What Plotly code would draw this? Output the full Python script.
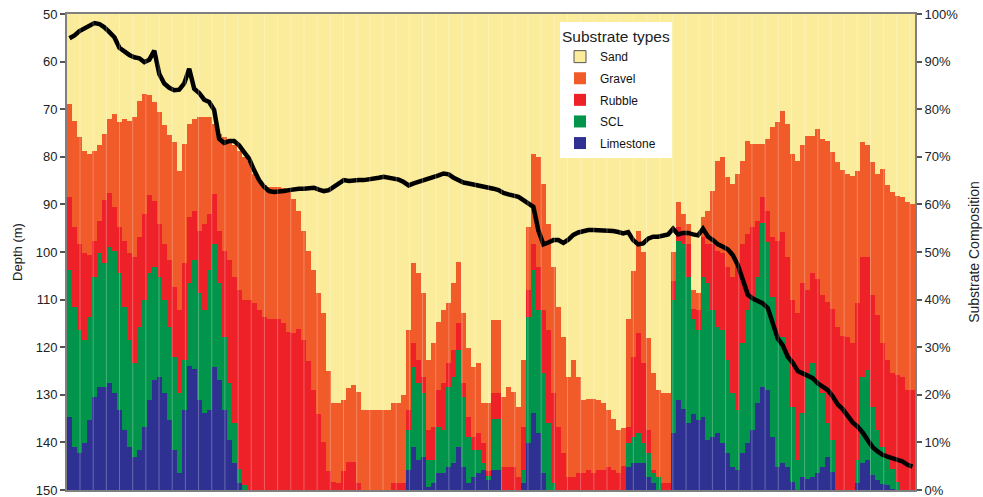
import plotly.graph_objects as go

# Cumulative upper boundaries of each substrate class (% of composition)
gravel_top = [
    81.0, 77.5, 74.1, 71.3, 70.6, 71.3, 72.4, 74.8, 78.0, 79.0, 77.3, 78.0, 77.6, 78.3, 81.8, 83.2, 82.9, 81.5, 79.4, 76.6,
    74.5, 73.1, 67.1, 72.7, 76.9, 78.0, 78.3, 78.3,
    78.3, 76.9, 74.8, 74.1, 73.4, 72.4, 71.3, 69.9, 69.2, 66.4, 64.7, 64.0, 63.6, 63.6, 63.6, 63.5, 62.6, 61.2, 58.7, 54.5,
    50.3, 46.2, 41.3, 37.1, 25.0, 18.2, 18.2, 18.9,
    21.5, 22.0, 20.5, 16.8, 16.8, 16.8, 16.8, 16.8, 16.8, 18.2, 18.2, 20.0, 33.6, 47.6, 45.5, 41.3, 27.3, 30.8, 35.3, 37.8,
    39.2, 43.4, 47.9, 37.1, 29.9, 25.9, 26.6, 18.2,
    18.2, 35.7, 35.7, 19.6, 21.7, 20.6, 17.5, 27.3, 55.2, 70.6, 69.9, 64.3, 55.9, 46.9, 38.5, 32.2, 23.8, 27.3, 23.8, 18.9,
    19.2, 19.2, 18.9, 18.2, 16.8, 15.0, 12.6, 13.0,
    36.0, 46.0, 54.5, 50.0, 32.0, 24.5, 21.0, 20.3, 20.3, 50.0, 60.5, 58.0, 55.9, 42.0, 41.3, 57.3, 58.7, 62.9, 69.2, 69.9,
    65.7, 64.3, 66.4, 69.2, 73.4, 72.7, 72.7, 72.7,
    73.8, 76.2, 77.3, 79.7, 76.9, 70.6, 69.2, 72.4, 74.3, 74.3, 75.9, 73.8, 73.4, 71.0, 68.9, 67.3, 66.4, 65.9, 67.1, 73.1,
    72.4, 68.9, 66.4, 67.5, 64.0, 62.6, 61.8, 61.5, 60.5, 60.1,
]

rubble_top = [
    61.5, 55.2, 51.7, 49.7, 49.3, 52.4, 56.6, 61.0, 62.5, 59.4, 55.2, 52.4, 49.7, 49.0, 53.1, 58.0, 61.9, 60.8, 55.9, 51.7,
    48.3, 42.7, 37.8, 47.6, 57.3, 58.7, 54.5, 55.9,
    58.0, 62.2, 54.5, 50.3, 48.3, 44.8, 42.0, 39.9, 39.9, 39.2, 37.8, 36.4, 36.0, 36.0, 36.0, 35.0, 33.2, 32.9, 33.9, 31.5,
    27.0, 21.0, 16.0, 10.0, 4.0, 1.7, 1.5, 4.0,
    5.9, 5.9, 1.4, 0.0, 0.0, 0.0, 0.0, 0.0, 0.0, 1.4, 1.4, 1.4, 16.8, 30.8, 27.3, 23.8, 12.6, 13.3, 21.0, 22.4,
    26.6, 29.4, 35.0, 22.4, 15.4, 11.2, 11.9, 9.8,
    4.0, 20.3, 20.3, 4.9, 4.9, 4.9, 2.8, 13.3, 42.0, 51.7, 46.9, 37.8, 33.6, 20.3, 13.3, 7.7, 2.8, 2.8, 3.5, 3.5,
    4.2, 3.5, 4.2, 4.2, 4.9, 4.2, 3.5, 5.0,
    13.3, 28.0, 33.0, 26.6, 12.6, 4.2, 2.8, 1.4, 1.4, 44.0, 55.2, 54.5, 51.7, 38.0, 37.8, 53.1, 51.7, 51.7, 50.3, 49.7,
    46.9, 44.8, 47.6, 51.7, 53.8, 55.2, 56.6, 61.5,
    58.7, 53.1, 52.4, 54.2, 49.0, 39.9, 37.1, 43.4, 42.0, 45.5, 44.4, 40.9, 39.5, 38.1, 34.3, 32.3, 32.2, 30.8, 39.2, 49.0,
    49.0, 40.9, 36.7, 30.8, 27.3, 24.5, 24.1, 23.8, 21.0, 21.0,
]

scl_top = [
    46.2, 38.5, 33.6, 31.5, 36.4, 44.8, 49.7, 47.6, 51.0, 50.3, 45.5, 38.5, 31.5, 26.6, 34.3, 39.9, 45.5, 46.9, 44.8, 39.9,
    34.3, 28.0, 20.3, 27.3, 43.4, 48.3, 41.3, 37.8,
    46.2, 51.7, 43.4, 32.2, 22.4, 14.0, 4.5, 1.0, 0.0, 0.0, 0.0, 0.0, 0.0, 0.0, 0.0, 0.0, 0.0, 0.0, 0.0, 0.0,
    0.0, 0.0, 0.0, 0.0, 0.0, 0.0, 0.0, 0.0,
    0.0, 0.0, 0.0, 0.0, 0.0, 0.0, 0.0, 0.0, 0.0, 0.0, 0.0, 0.0, 12.6, 25.9, 22.4, 20.3, 6.3, 6.3, 13.3, 12.6,
    21.7, 23.8, 29.4, 19.6, 11.2, 8.4, 8.4, 5.6,
    3.0, 15.0, 15.0, 0.0, 0.0, 0.0, 0.0, 4.2, 36.4, 46.2, 37.8, 24.5, 14.0, 1.4, 0.0, 0.0, 0.0, 0.0, 0.0, 0.0,
    0.0, 0.0, 0.0, 0.0, 0.0, 0.0, 0.0, 0.0,
    9.8, 11.2, 11.9, 9.8, 7.7, 3.5, 2.8, 0.0, 0.0, 40.0, 52.4, 51.7, 44.8, 36.0, 33.6, 44.8, 43.4, 37.8, 34.3, 33.6,
    27.3, 20.3, 16.8, 30.8, 37.8, 40.6, 44.8, 56.0,
    52.0, 40.6, 32.5, 32.2, 28.0, 17.5, 6.3, 16.1, 24.5, 26.6, 23.1, 20.3, 14.0, 10.5, 0.0, 0.0, 0.0, 0.0, 6.3, 23.8,
    25.2, 17.5, 12.6, 9.1, 6.6, 4.5, 1.7, 0.0, 0.0, 0.0,
]

limestone_top = [
    15.4, 9.1, 7.7, 9.8, 14.7, 19.6, 21.7, 21.7, 22.4, 20.3, 16.8, 12.6, 9.1, 7.0, 8.4, 13.3, 18.9, 23.1, 23.8, 20.3,
    14.7, 8.4, 3.5, 16.8, 26.0, 25.5, 18.9, 16.1,
    16.8, 25.9, 23.1, 16.8, 10.5, 5.6, 1.5, 0.0, 0.0, 0.0, 0.0, 0.0, 0.0, 0.0, 0.0, 0.0, 0.0, 0.0, 0.0, 0.0,
    0.0, 0.0, 0.0, 0.0, 0.0, 0.0, 0.0, 0.0,
    0.0, 0.0, 0.0, 0.0, 0.0, 0.0, 0.0, 0.0, 0.0, 0.0, 0.0, 0.0, 4.2, 9.1, 6.3, 7.0, 0.7, 1.4, 3.5, 3.5,
    4.9, 5.6, 9.1, 4.9, 1.4, 2.8, 3.5, 4.2,
    2.0, 4.2, 4.2, 0.0, 0.0, 0.0, 0.0, 1.4, 9.8, 16.1, 11.9, 3.5, 0.0, 0.0, 0.0, 0.0, 0.0, 0.0, 0.0, 0.0,
    0.0, 0.0, 0.0, 0.0, 0.0, 0.0, 0.0, 0.0,
    4.9, 5.6, 5.6, 5.6, 2.8, 1.4, 0.0, 0.0, 0.0, 12.0, 18.9, 17.0, 14.0, 16.0, 14.7, 15.4, 10.5, 11.2, 11.9, 9.8,
    7.7, 4.9, 4.2, 7.7, 9.8, 12.6, 18.2, 21.7,
    21.0, 11.2, 4.9, 5.6, 4.9, 1.7, 0.0, 2.8, 2.4, 2.8, 3.5, 4.9, 7.0, 3.8, 0.0, 0.0, 0.0, 0.0, 1.4, 5.6,
    6.3, 3.1, 2.0, 1.3, 1.0, 0.3, 0.0, 0.0, 0.0, 0.0,
]

# Depth profile (m) along the transect
depth_m = [
    55.1, 54.5, 53.6, 53.1, 52.4, 51.9, 52.1, 52.8, 53.8, 54.9, 57.1, 58.0, 58.6, 59.1, 59.3, 60.1, 59.6, 57.7, 62.6, 64.6,
    65.5, 66.0, 65.9, 64.6, 61.5, 65.7, 66.6, 68.0,
    68.5, 70.2, 76.2, 77.1, 76.7, 76.7, 77.6, 79.0, 80.4, 82.8, 84.9, 86.3, 87.2, 87.4, 87.4, 87.2, 87.0, 86.8, 86.7, 86.7,
    86.5, 86.5, 86.9, 87.2, 87.0, 86.3, 85.6, 84.9,
    85.1, 84.9, 84.9, 84.9, 84.8, 84.6, 84.4, 84.2, 84.4, 84.6, 84.8, 85.3, 86.0, 85.6, 85.3, 84.9, 84.7, 84.4, 83.9, 83.5,
    83.7, 84.4, 84.9, 85.4, 85.6, 85.8, 86.0, 86.2,
    86.3, 86.7, 87.0, 87.6, 87.9, 88.2, 88.4, 89.1, 89.7, 90.5, 95.5, 98.4, 98.0, 97.5, 97.5, 98.1, 97.4, 96.4, 95.9, 95.6,
    95.4, 95.4, 95.4, 95.4, 95.5, 95.6, 95.8, 96.1,
    95.8, 97.5, 98.4, 98.2, 97.2, 96.8, 96.8, 96.6, 96.3, 95.1, 96.3, 96.0, 96.0, 96.3, 96.5, 95.1, 96.8, 97.5, 98.4, 98.9,
    99.5, 100.7, 102.8, 105.9, 109.0, 109.8, 110.2, 110.8,
    111.8, 114.7, 118.2, 119.6, 122.0, 123.3, 125.0, 125.5, 126.1, 126.5, 127.6, 128.3, 129.0, 130.3, 132.0, 133.0, 134.4,
    135.8, 136.7, 137.9, 139.5, 141.0, 141.9, 142.6, 143.0, 143.3, 143.7, 144.0, 144.7, 145.1,
]

depth_ticks = [50, 60, 70, 80, 90, 100, 110, 120, 130, 140, 150]
pct_ticks = [0, 10, 20, 30, 40, 50, 60, 70, 80, 90, 100]
pct_labels = ["0%", "10%", "20%", "30%", "40%", "50%", "60%", "70%", "80%", "90%", "100%"]

SAND = "#FBEC9C"
GRAVEL = "#F15A29"
RUBBLE = "#EE2129"
SCL = "#00954A"
LIME = "#2E3192"
AXIS = "#7f7f7f"
FONT = "Liberation Sans, Arial, Helvetica, sans-serif"

n = len(gravel_top)
x = list(range(n))
limestone = limestone_top
scl = [g - b for g, b in zip(scl_top, limestone_top)]
rubble = [r - g for r, g in zip(rubble_top, scl_top)]
gravel = [gv - r for gv, r in zip(gravel_top, rubble_top)]
sand = [100 - gv for gv in gravel_top]

fig = go.Figure()
for name, vals, col, rank in [("Limestone", limestone, LIME, 5), ("SCL", scl, SCL, 4),
                              ("Rubble", rubble, RUBBLE, 3), ("Gravel", gravel, GRAVEL, 2)]:
    fig.add_trace(go.Bar(x=x, y=vals, name=name, legendgroup=name, legendrank=rank,
                         marker=dict(color=col, line=dict(width=0)), opacity=1))
fig.add_trace(go.Bar(x=x, y=sand, name="Sand", legendgroup="Sand", showlegend=False, legendrank=1,
                     marker=dict(color=SAND, line=dict(width=0)), opacity=1))
# legend-only swatch for Sand (outlined as in the original)
fig.add_trace(go.Bar(x=[None], y=[None], name="Sand", legendgroup="Sand", showlegend=True, legendrank=1,
                     marker=dict(color=SAND, line=dict(color="#555555", width=1))))
fig.add_trace(go.Scatter(x=x, y=depth_m, mode="lines", yaxis="y2", showlegend=False,
                         line=dict(color="black", width=4.5)))

shapes = []
k = 0
while True:
    xp = (13 + 13.175 * k) / 848
    if xp >= 1:
        break
    shapes.append(dict(type="line", xref="paper", yref="paper", x0=xp, x1=xp, y0=0, y1=1,
                       line=dict(color="rgba(255,255,255,0.28)", width=1), layer="above"))
    k += 1

fig.update_layout(
    width=983, height=497, autosize=False,
    margin=dict(l=67, r=68, t=14, b=7, pad=0, autoexpand=False),
    barmode="stack", bargap=0,
    paper_bgcolor="white", plot_bgcolor=SAND,
    font=dict(family=FONT, size=13, color="#222222"),
    shapes=shapes,
    xaxis=dict(range=[-0.5, n - 0.5], showticklabels=False, ticks="", showgrid=False, zeroline=False,
               showline=True, mirror=True, linecolor=AXIS, linewidth=2, automargin=False),
    yaxis=dict(side="right", range=[0, 100], tickmode="array", tickvals=pct_ticks, ticktext=pct_labels,
               ticks="outside", ticklen=5, tickwidth=1.5, tickcolor="#555555", showline=True,
               linecolor=AXIS, linewidth=2, showgrid=False, zeroline=False, ticklabeloverflow="allow",
               automargin=False, tickfont=dict(size=13, color="#222222"),
               title=dict(text="Substrate Composition", font=dict(size=14, color="#222222"), standoff=12)),
    yaxis2=dict(overlaying="y", side="left", range=[150, 50], tickvals=depth_ticks, ticks="outside",
                ticklen=5, tickwidth=1.5, tickcolor="#555555", showline=True, linecolor=AXIS, linewidth=2,
                showgrid=False, zeroline=False, ticklabeloverflow="allow", automargin=False,
                tickfont=dict(size=13, color="#222222"),
                title=dict(text="Depth (m)", font=dict(size=13, color="#222222"), standoff=10)),
    legend=dict(x=(560 - 67) / 848, y=(490 - 22) / 476, xanchor="left", yanchor="top",
                bgcolor="white", borderwidth=0, traceorder="grouped", tracegroupgap=2.6,
                title=dict(text="Substrate types", font=dict(size=15.5, color="#222222")),
                font=dict(size=12, color="#111111"), itemclick=False, itemdoubleclick=False),
    showlegend=True,
)

fig.write_html("out.html", config={"displayModeBar": False},
               post_script="document.body.style.margin='0';document.body.style.overflow='hidden';")
